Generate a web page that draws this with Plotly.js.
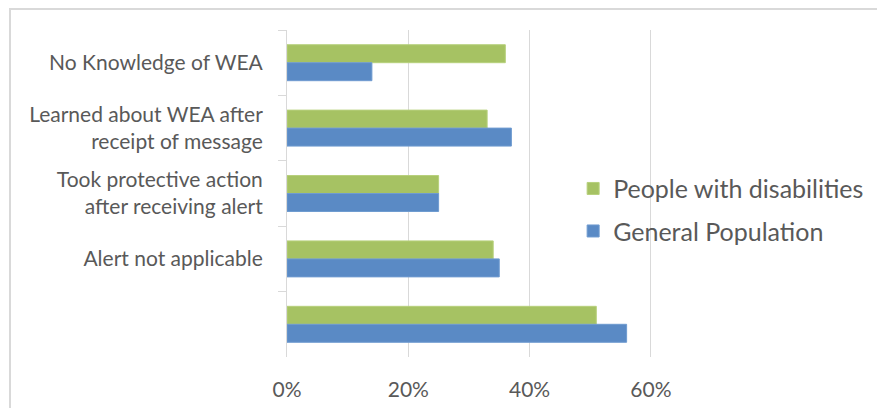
<!DOCTYPE html>
<html>
<head>
<meta charset="utf-8">
<script src="https://cdn.plot.ly/plotly-3.0.1.min.js"></script>
<style>
  html, body { margin: 0; padding: 0; background: #ffffff; }
  #frame { position: absolute; left: 9px; top: 8px; width: 900px; height: 440px; border: 2px solid #d9d9d9; box-sizing: border-box; }
  #chart { position: absolute; left: 0; top: 0; width: 877px; height: 408px; }
</style>
</head>
<body>
<div id="frame"></div>
<div id="chart"></div>
<script>
const categories = [
  "No Knowledge of WEA",
  "Learned about WEA after<br>receipt of message",
  "Took protective action<br>after receiving alert",
  "Alert not applicable",
  " "
];
const seriesNames = ["People with disabilities", "General Population"];
const disabilitiesValues = [0.36, 0.33, 0.25, 0.34, 0.51];
const generalValues = [0.14, 0.37, 0.25, 0.35, 0.56];
const xTickVals = [0, 0.2, 0.4, 0.6];
const xTickText = ["0%", "20%", "40%", "60%"];

const FONT = "Lato, 'Open Sans', sans-serif";
const TXT = "#595959";

const traces = [
  {
    type: "bar", orientation: "h", name: seriesNames[0],
    y: categories, x: disabilitiesValues,
    marker: { color: "#a6c263", line: { color: "#b7d07c", width: 1 } },
    legendgroup: "a", hoverinfo: "x+name"
  },
  {
    type: "bar", orientation: "h", name: seriesNames[1],
    y: categories, x: generalValues,
    marker: { color: "#5a8ac5", line: { color: "#6f9bd0", width: 1 } },
    legendgroup: "b", hoverinfo: "x+name"
  }
];

const layout = {
  width: 877, height: 408,
  margin: { l: 287, r: 214, t: 30, b: 51, pad: 0, autoexpand: false },
  paper_bgcolor: "rgba(0,0,0,0)",
  plot_bgcolor: "rgba(0,0,0,0)",
  font: { family: FONT, color: TXT, size: 21 },
  barmode: "group",
  bargap: 0.45,
  bargroupgap: 0,
  showlegend: true,
  legend: {
    x: 0.761, xanchor: "left", y: 0.585, yanchor: "top",
    font: { family: FONT, size: 25, color: TXT },
    traceorder: "grouped", tracegroupgap: 7,
    bgcolor: "rgba(0,0,0,0)"
  },
  xaxis: {
    range: [0, 0.62],
    tickvals: xTickVals, ticktext: xTickText,
    showgrid: true, gridcolor: "#d9d9d9", gridwidth: 1,
    zeroline: false, showline: false, ticks: "",
    ticklabelstandoff: 18,
    tickfont: { family: FONT, size: 21, color: TXT },
    fixedrange: true
  },
  yaxis: {
    type: "category",
    autorange: "reversed",
    showline: true, linecolor: "#d9d9d9", linewidth: 1,
    ticks: "outside", tickson: "boundaries", ticklen: 8, tickcolor: "#d9d9d9", tickwidth: 1,
    showgrid: false, zeroline: false,
    ticklabelstandoff: 19,
    tickfont: { family: FONT, size: 21, color: TXT },
    fixedrange: true
  }
};

Plotly.newPlot("chart", traces, layout, { displayModeBar: false, staticPlot: true });
</script>
</body>
</html>
